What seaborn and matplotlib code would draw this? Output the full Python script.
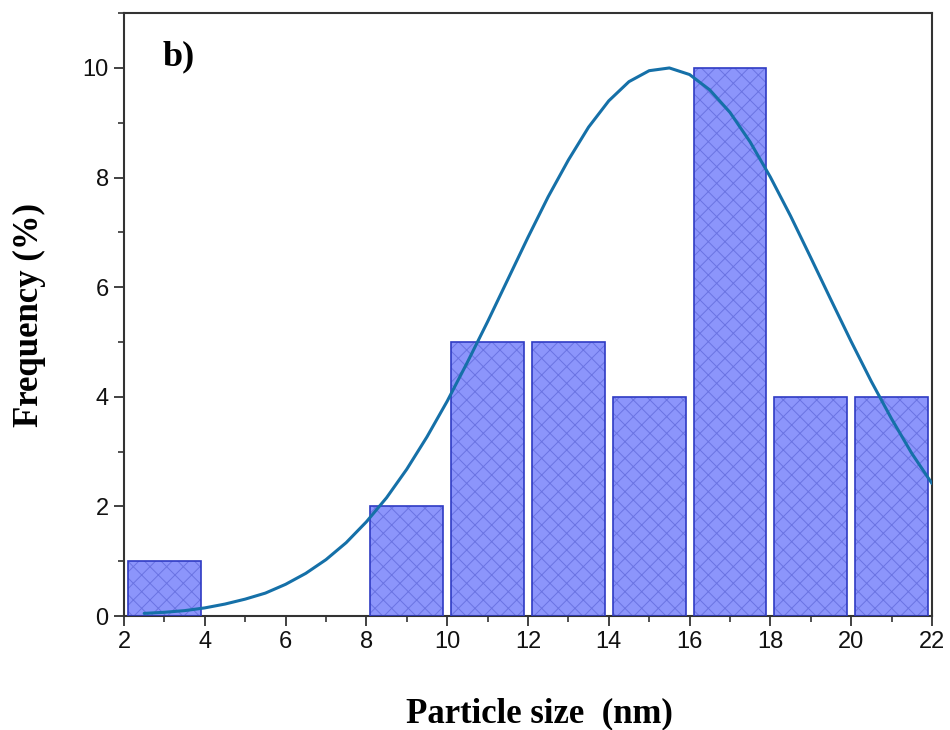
import matplotlib
matplotlib.use("Agg")
import matplotlib.pyplot as plt
import seaborn as sns
import pandas as pd
from matplotlib.ticker import MultipleLocator

# ---- data ----
bin_centers = [3, 9, 11, 13, 15, 17, 19, 21]
frequency = [1, 2, 5, 5, 4, 10, 4, 4]

fit_x = [2.5, 3, 3.5, 4, 4.5, 5, 5.5, 6, 6.5, 7, 7.5, 8, 8.5, 9, 9.5, 10, 10.5,
         11, 11.5, 12, 12.5, 13, 13.5, 14, 14.5, 15, 15.5, 16, 16.5, 17, 17.5,
         18, 18.5, 19, 19.5, 20, 20.5, 21, 21.5, 22]
fit_y = [0.05, 0.07, 0.10, 0.15, 0.22, 0.31, 0.42, 0.58, 0.78, 1.03, 1.34, 1.72,
         2.16, 2.68, 3.27, 3.92, 4.63, 5.37, 6.14, 6.91, 7.65, 8.32, 8.92, 9.40,
         9.75, 9.95, 10.00, 9.88, 9.60, 9.19, 8.65, 8.01, 7.30, 6.54, 5.77, 5.01,
         4.28, 3.60, 2.97, 2.42]

x_ticks = [2, 4, 6, 8, 10, 12, 14, 16, 18, 20, 22]
y_ticks = [0, 2, 4, 6, 8, 10]

bars = pd.DataFrame({"size": bin_centers, "freq": frequency})
fit = pd.DataFrame({"x": fit_x, "y": fit_y})

sns.set_theme(style="ticks")
plt.rcParams["font.family"] = ["Liberation Sans", "DejaVu Sans"]
plt.rcParams["hatch.linewidth"] = 0.7

fig = plt.figure(figsize=(9.5, 7.3), dpi=100)
ax = fig.add_axes([0.1305, 0.156, 0.8505, 0.826])

fill_col = "#8c95fb"
hatch_col = "#6a73e2"
edge_col = "#2f3bc4"

# filled hatched bars
sns.barplot(data=bars, x="size", y="freq", native_scale=True, width=0.9,
            color=fill_col, saturation=1, edgecolor=hatch_col, linewidth=0,
            hatch="xx", ax=ax, zorder=2)
# outlines
sns.barplot(data=bars, x="size", y="freq", native_scale=True, width=0.9,
            fill=False, edgecolor=edge_col, linewidth=1.2, ax=ax, zorder=3)

sns.lineplot(data=fit, x="x", y="y", color="#1570a8", linewidth=2.2, ax=ax,
             zorder=4)

ax.set_xlim(2, 22)
ax.set_ylim(0, 11)
ax.set_xticks(x_ticks)
ax.set_yticks(y_ticks)
ax.xaxis.set_minor_locator(MultipleLocator(1))
ax.yaxis.set_minor_locator(MultipleLocator(1))
ax.tick_params(which="major", length=7, width=1.3, labelsize=17, color="#333333",
               labelcolor="#111111", pad=4, direction="out")
ax.tick_params(which="minor", length=4, width=1.2, color="#333333", direction="out")
for sp in ax.spines.values():
    sp.set_visible(True)
    sp.set_linewidth(1.5)
    sp.set_color("#333333")

ax.set_xlabel("Particle size  (nm)", family=["Liberation Serif"], fontweight="bold",
              fontsize=25, color="black")
ax.xaxis.set_label_coords(0.514, -0.135)
ax.set_ylabel("Frequency (%)", family=["Liberation Serif"], fontweight="bold",
              fontsize=25, labelpad=26, color="black")
ax.text(0.048, 0.927, "b)", transform=ax.transAxes, family=["Liberation Serif"],
        fontweight="bold", fontsize=26, va="center", ha="left", color="black")

fig.savefig("out.png", dpi=100)
